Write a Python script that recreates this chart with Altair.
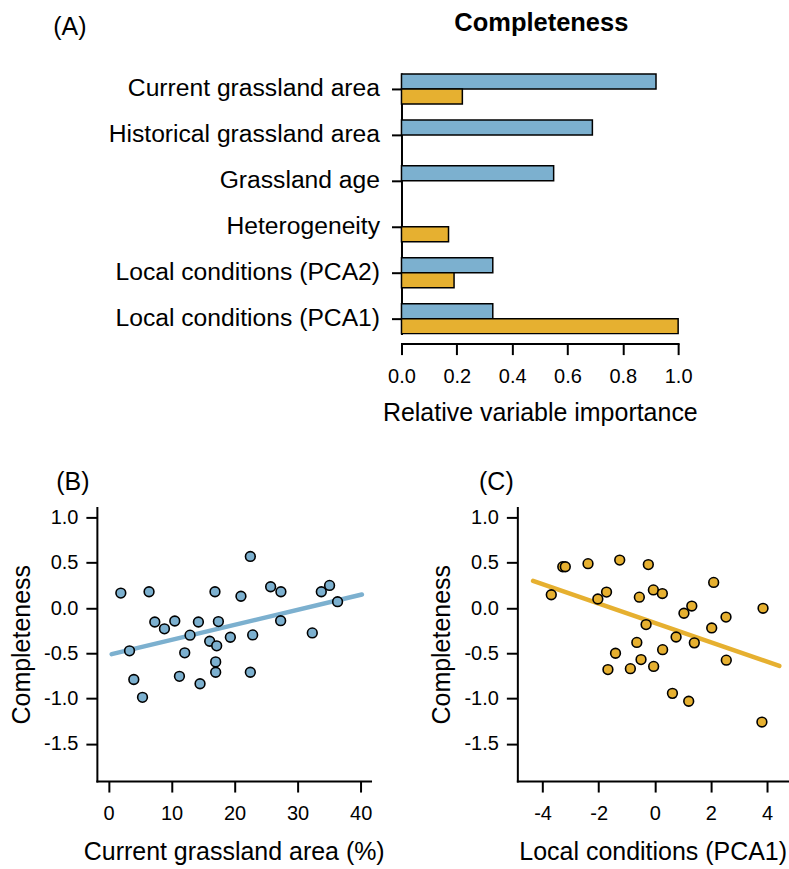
import altair as alt
import pandas as pd

# ---------------- data ----------------
categories = ["Current grassland area", "Historical grassland area", "Grassland age",
              "Heterogeneity", "Local conditions (PCA2)", "Local conditions (PCA1)"]
series_names = ["Series 1", "Series 2"]
importance_series1 = [0.92, 0.69, 0.55, None, 0.33, 0.33]
importance_series2 = [0.22, None, None, 0.17, 0.19, 1.00]
importance_ticks = [0.0, 0.2, 0.4, 0.6, 0.8, 1.0]

grassland_area = [1.95, 6.43, 16.89, 21.01, 22.50, 25.72, 27.35, 33.76, 35.07, 36.34,
                  7.34, 10.51, 8.87, 14.26, 17.43, 27.31, 12.93, 16.05, 17.16, 19.33,
                  22.87, 32.33, 3.33, 12.09, 17.0, 17.0, 22.50, 4.01, 11.25, 14.52, 5.39]
completeness_b = [0.165, 0.18, 0.18, 0.13, 0.57, 0.235, 0.18, 0.18, 0.25, 0.07,
                  -0.154, -0.143, -0.23, -0.154, -0.15, -0.14, -0.30, -0.367, -0.418, -0.323,
                  -0.297, -0.275, -0.473, -0.495, -0.595, -0.71, -0.71, -0.79, -0.755, -0.837, -0.987]
fit_b_x = [0.5, 40.2]
fit_b_y = [-0.51, 0.15]

pca1 = [-3.69, -3.28, -3.19, -2.38, -1.25, -0.23, 2.10, -2.03, -1.72, -0.55,
        -0.05, 0.27, 1.32, 1.04, 3.86, 2.54, -0.31, 2.03, 0.76, -0.64,
        1.41, 0.28, -1.40, -0.49, -0.04, -1.67, -0.87, 2.55, 0.63, 1.21, 3.82]
completeness_c = [0.147, 0.456, 0.456, 0.49, 0.53, 0.48, 0.283, 0.10, 0.176, 0.12,
                  0.20, 0.16, 0.022, -0.058, -0.003, -0.10, -0.183, -0.22, -0.32, -0.38,
                  -0.385, -0.46, -0.50, -0.57, -0.645, -0.68, -0.67, -0.576, -0.943, -1.03, -1.26]
fit_c_x = [-4.34, 4.44]
fit_c_y = [0.30, -0.64]

completeness_ticks = [-1.5, -1.0, -0.5, 0.0, 0.5, 1.0]
area_ticks = [0, 10, 20, 30, 40]
pca_ticks = [-4, -2, 0, 2, 4]

panel_labels = ["(A)", "(B)", "(C)"]
main_title = "Completeness"

# ---------------- style ----------------
BLUE = "#7CB0CF"
ORANGE = "#E6B030"
FONT = "Liberation Sans"
HYPHEN = "replace(datum.label, '\u2212', '-')"
LABEL_SIZE = 24.7
TITLE_SIZE = 25
TICK_SIZE = 20

bar_rows = []
for cat, v1, v2 in zip(categories, importance_series1, importance_series2):
    if v1 is not None:
        bar_rows.append({"variable": cat, "series": series_names[0], "importance": v1})
    if v2 is not None:
        bar_rows.append({"variable": cat, "series": series_names[1], "importance": v2})
bar_df = pd.DataFrame(bar_rows)

df_b = pd.DataFrame({"x": grassland_area, "y": completeness_b})
fit_b = pd.DataFrame({"x": fit_b_x, "y": fit_b_y})
df_c = pd.DataFrame({"x": pca1, "y": completeness_c})
fit_c = pd.DataFrame({"x": fit_c_x, "y": fit_c_y})


def text_layer(label, x, y, size, weight="normal"):
    return alt.Chart(pd.DataFrame({"t": [label]})).mark_text(
        font=FONT, fontSize=size, fontWeight=weight, align="center",
        baseline="alphabetic", color="black"
    ).encode(text="t:N", x=alt.value(x), y=alt.value(y))


# ---------------- panel A ----------------
bars = alt.Chart(bar_df).mark_bar(stroke="black", strokeWidth=1.5).encode(
    x=alt.X("importance:Q",
            scale=alt.Scale(domain=[0, 1], range=[305, 582], nice=False, zero=True),
            axis=alt.Axis(orient="bottom", offset=-438, values=importance_ticks, format=".1f",
                          tickSize=11, labelPadding=12, labelFontSize=TICK_SIZE,
                          title="Relative variable importance", titleFontSize=TITLE_SIZE,
                          titleY=77, titleBaseline="alphabetic")),
    y=alt.Y("variable:N", sort=categories,
            scale=alt.Scale(range=[0, 260], paddingInner=16 / 46, paddingOuter=0),
            axis=alt.Axis(orient="left", offset=-305, title=None, tickSize=10,
                          labelPadding=12, labelFontSize=LABEL_SIZE, labelLimit=400)),
    yOffset=alt.YOffset("series:N", sort=series_names,
                        scale=alt.Scale(domain=series_names, paddingInner=0, paddingOuter=0)),
    color=alt.Color("series:N", scale=alt.Scale(domain=series_names, range=[BLUE, ORANGE]),
                    legend=None),
)
layer_a = alt.layer(
    bars,
    text_layer(panel_labels[0], -27, -39.5, 25),
    text_layer(main_title, 445, -43, 25.5, "bold"),
)

# ---------------- panels B and C ----------------
y_dom = [-1.912, 1.112]


def y_enc(offset):
    return alt.Y("y:Q", scale=alt.Scale(domain=y_dom, range=[708, 434], nice=False, zero=False),
                 axis=alt.Axis(orient="left", offset=offset, values=completeness_ticks,
                               format=".1f", labelExpr=HYPHEN, tickSize=11, labelPadding=8,
                               labelFontSize=TICK_SIZE, title="Completeness",
                               titleFontSize=TITLE_SIZE, titleX=-67.7,
                               titleBaseline="alphabetic"))


xb = alt.X("x:Q", scale=alt.Scale(domain=[-1.85, 41.57], range=[0, 274], nice=False, zero=False),
           axis=alt.Axis(orient="bottom", values=area_ticks, format="d", tickSize=11,
                         labelPadding=11, labelFontSize=TICK_SIZE,
                         title="Current grassland area (%)", titleFontSize=TITLE_SIZE,
                         titleY=79, titleBaseline="alphabetic"))
layer_b = alt.layer(
    alt.Chart(fit_b).mark_line(color=BLUE, strokeWidth=4.5, strokeCap="round").encode(x=xb, y=y_enc(0)),
    alt.Chart(df_b).mark_circle(size=95, color=BLUE, stroke="black", strokeWidth=1.6,
                                opacity=1).encode(x=xb, y=y_enc(0)),
    text_layer(panel_labels[1], -24, 417, 25),
)

xc = alt.X("x:Q", scale=alt.Scale(domain=[-4.90, 4.75], range=[421, 692], nice=False, zero=False),
           axis=alt.Axis(orient="bottom", values=pca_ticks, format="d", labelExpr=HYPHEN,
                         tickSize=11, labelPadding=11, labelFontSize=TICK_SIZE,
                         title="Local conditions (PCA1)", titleFontSize=TITLE_SIZE,
                         titleY=79, titleBaseline="alphabetic"))
layer_c = alt.layer(
    alt.Chart(fit_c).mark_line(color=ORANGE, strokeWidth=4.5, strokeCap="round").encode(x=xc, y=y_enc(-421)),
    alt.Chart(df_c).mark_circle(size=95, color=ORANGE, stroke="black", strokeWidth=1.6,
                                opacity=1).encode(x=xc, y=y_enc(-421)),
    text_layer(panel_labels[2], 400, 417, 25),
)

chart = alt.layer(layer_a, layer_b, layer_c).resolve_scale(
    x="independent", y="independent"
).properties(
    width=692, height=708,
    padding={"left": 9, "top": 10.5, "right": 0, "bottom": 0},
).configure_view(stroke=None).configure_axis(
    grid=False, domainColor="black", domainWidth=2, domainCap="square",
    tickColor="black", tickWidth=2, labelColor="black", titleColor="black",
    labelFont=FONT, titleFont=FONT, titleFontWeight="normal",
    labelFlush=False, labelOverlap=False,
)

chart.save("out.html", embed_options={"renderer": "svg", "actions": False})
